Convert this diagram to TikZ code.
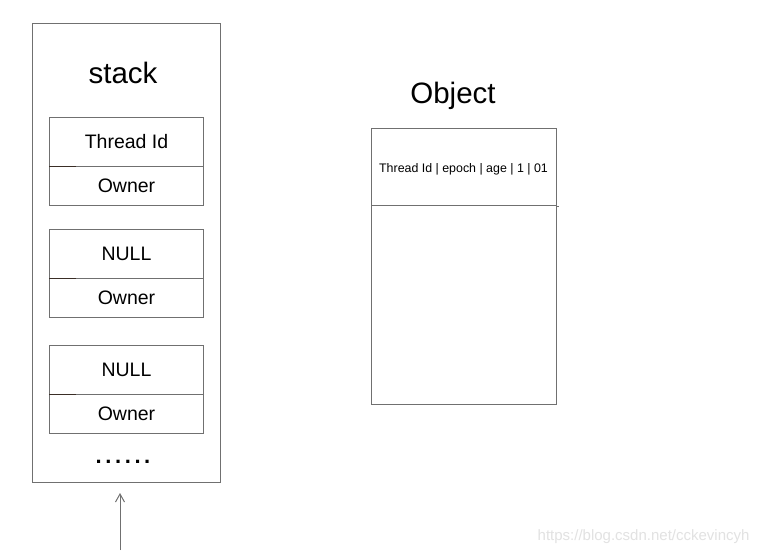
\documentclass[tikz,border=0pt]{standalone}
\usepackage{fontspec}
\setmainfont{Liberation Sans}
\usetikzlibrary{arrows.meta}
\definecolor{linegray}{HTML}{707070}
\definecolor{darkseg}{HTML}{3A2E26}
\definecolor{wmgray}{HTML}{E2E2E2}
\begin{document}
\begin{tikzpicture}[x=1pt,y=-1pt,
  box/.style={draw=linegray, line width=1pt, inner sep=0pt, anchor=north west},
  cell/.style={box, minimum width=154pt, font=\fontsize{19.5}{22}\selectfont},
  title/.style={font=\fontsize{29.5}{33}\selectfont},
  seg/.style={draw=darkseg, line width=1pt}]
\useasboundingbox[fill=white] (0,0) rectangle (763,555);
% stack
\node[box, minimum width=188pt, minimum height=459pt] (stack) at (32,23) {};
\node[title] (stacktitle) at (123,73) {stack};
\node[cell, minimum height=49pt] (c1t) at (49,117) {Thread Id};
\node[cell, minimum height=39pt] (c1b) at (49,166) {Owner};
\node[cell, minimum height=49pt] (c2t) at (49,229) {NULL};
\node[cell, minimum height=39pt] (c2b) at (49,278) {Owner};
\node[cell, minimum height=49pt] (c3t) at (49,345) {NULL};
\node[cell, minimum height=39pt] (c3b) at (49,394) {Owner};
\draw[seg] (c1b.north west) -- ++(27,0);
\draw[seg] (c2b.north west) -- ++(27,0);
\draw[seg] (c3b.north west) -- ++(27,0);
\node[font=\bfseries\fontsize{22}{24}\selectfont] (dots) at (123,462) {.\kern3.6pt.\kern3.6pt.\kern3.6pt.\kern3.6pt.\kern3.6pt.};
% arrow
\coordinate (tail) at (120,550);
\coordinate (head) at (120,493);
\draw[linegray, line width=1pt, -{Straight Barb[length=8pt,width=9pt]}] (tail) -- (head);
% object
\node[title] (objtitle) at (453,96) {Object};
\node[box, minimum width=185pt, minimum height=77pt] (otop) at (371,128) {};
\node[font=\fontsize{12.4}{14}\selectfont] (otext) at (463.5,169) {Thread Id | epoch | age | 1 | 01};
\node[box, minimum width=185pt, minimum height=199pt] (obot) at (371,205) {};
\draw[linegray, line width=1pt] (otop.south east) -- ++(2,0);
% watermark
\node[text=wmgray, font=\fontsize{15}{18}\selectfont, anchor=east] (wm) at (753,537) {https://blog.csdn.net/cckevincyh};
\end{tikzpicture}
\end{document}
